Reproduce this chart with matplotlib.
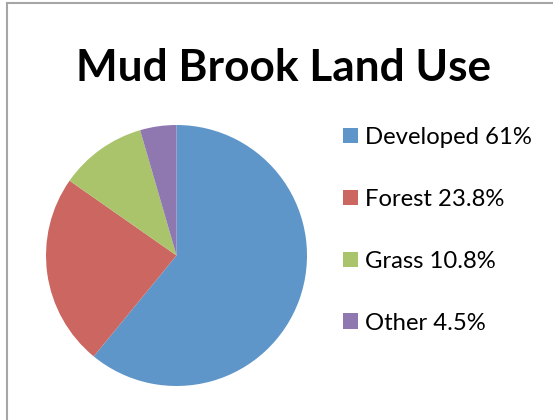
import matplotlib
matplotlib.use("Agg")
import matplotlib.pyplot as plt
from matplotlib.lines import Line2D

# Land use shares (percent)
categories = ["Developed", "Forest", "Grass", "Other"]
shares = [61, 23.8, 10.8, 4.5]
colors = ["#5F96C9", "#CC6660", "#A9C46B", "#8F78B0"]
title = "Mud Brook Land Use"

plt.rcParams["font.family"] = ["Lato", "DejaVu Sans"]

W, H = 553, 420
fig = plt.figure(figsize=(W / 100, H / 100), dpi=100)
fig.patch.set_facecolor("white")

# Pie axes: centre (176.5, 255.5) px, radius 130.5 px
cx, cy, r = 176.5, 255.5, 130.5
ax = fig.add_axes([(cx - r) / W, (H - cy - r) / H, 2 * r / W, 2 * r / H])
wedges, _ = ax.pie(shares, colors=colors, startangle=90, counterclock=False,
                   radius=1.0, wedgeprops=dict(linewidth=0))
ax.set_xlim(-1, 1)
ax.set_ylim(-1, 1)
ax.set_aspect("equal")
ax.axis("off")

labels = [f"{c} {v:g}%" for c, v in zip(categories, shares)]
fig.legend(wedges, labels, loc="upper left",
           bbox_to_anchor=(343 / W, 1 - 127 / H),
           frameon=False, fontsize=17.2, borderpad=0, borderaxespad=0,
           handlelength=0.62, handleheight=0.62, handletextpad=0.3,
           labelspacing=1.71)

fig.text(284 / W, 1 - 81 / H, title, ha="center", va="baseline",
         fontsize=31.8, fontweight="bold", color="black")

# Chart area frame (left and top edges)
bc = "#A6A6A6"
fig.add_artist(Line2D([6.5 / W, 6.5 / W], [0, 1 - 2.5 / H], color=bc, lw=1.5,
                      transform=fig.transFigure))
fig.add_artist(Line2D([6.5 / W, 1], [1 - 2.5 / H, 1 - 2.5 / H], color=bc, lw=1.5,
                      transform=fig.transFigure))

fig.savefig("out.png", dpi=100, facecolor="white")
